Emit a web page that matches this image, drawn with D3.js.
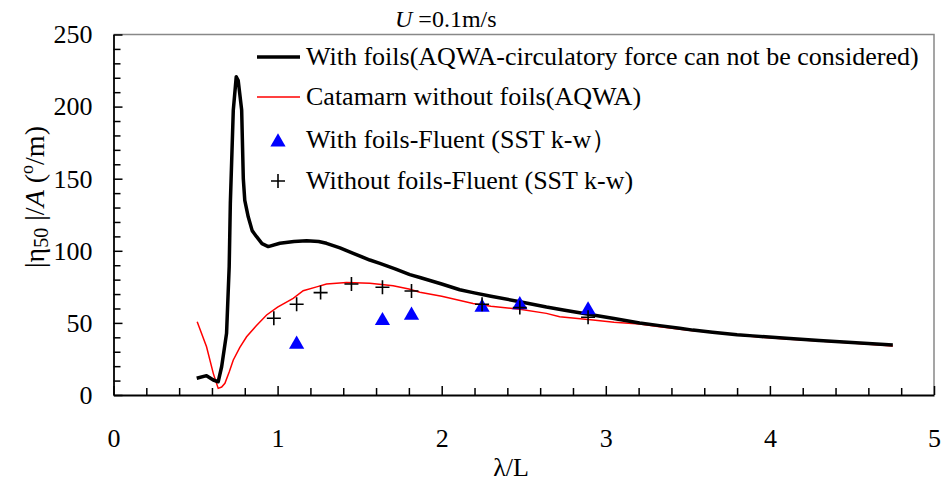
<!DOCTYPE html>
<html>
<head>
<meta charset="utf-8">
<script src="https://cdn.jsdelivr.net/npm/d3@7"></script>
<style>
  body { margin: 0; background: #fff; }
  svg { font-family: "Liberation Serif", "Times New Roman", serif; }
</style>
</head>
<body>
<div id="chart"></div>
<script>
// With foils (AQWA) - black curve
var withFoilsX = [0.507, 0.567, 0.608, 0.638, 0.659, 0.689, 0.705, 0.712, 0.730, 0.748, 0.760, 0.781, 0.791, 0.800, 0.821, 0.845, 0.872, 0.905, 0.943, 1.014, 1.10, 1.177, 1.25, 1.298, 1.38, 1.461, 1.562, 1.623, 1.716, 1.806, 1.867, 2.0, 2.11, 2.191, 2.3, 2.476, 2.638, 2.75, 2.922, 3.05, 3.206, 3.328, 3.45, 3.531, 3.65, 3.8, 3.896, 4.10, 4.3, 4.5, 4.749];
var withFoilsY = [11.6, 13.4, 10.4, 9.2, 19.6, 42.8, 89, 133, 197.6, 220.7, 218, 197.6, 150, 135, 123.6, 114, 109.8, 105, 102.9, 105.2, 106.5, 107, 106.5, 105.2, 102, 98.3, 93.6, 91.3, 87.5, 83.5, 81.5, 77, 73, 71, 68.5, 64.7, 61, 58.8, 55.5, 53, 50, 48.1, 46.3, 45, 43.5, 41.8, 41, 39.3, 37.8, 36.4, 34.7];

// Catamaran without foils (AQWA) - red curve
var noFoilsX = [0.510, 0.567, 0.608, 0.638, 0.659, 0.679, 0.705, 0.730, 0.77, 0.811, 0.87, 0.933, 1.00, 1.095, 1.156, 1.238, 1.298, 1.420, 1.562, 1.704, 1.80, 1.867, 2.0, 2.191, 2.3, 2.476, 2.638, 2.719, 2.922, 3.05, 3.206, 3.328, 3.531, 3.65, 3.896, 4.10, 4.5, 4.749];
var noFoilsY = [50.8, 33.5, 15, 4.6, 5.5, 8.1, 16, 24.3, 33, 40.4, 48, 55.5, 61, 67, 72.3, 75, 77, 78.1, 77.5, 75.8, 73.5, 71.2, 68.5, 63.5, 61.5, 59.4, 56.6, 54.3, 52, 50.5, 49.2, 47.4, 44.5, 43.5, 40.5, 38.8, 36, 34];

// Fluent results
var fluentFoilsX = [1.116, 1.639, 1.816, 2.246, 2.476, 2.892];
var fluentFoilsY = [35.1, 51.5, 55.3, 60.8, 62.5, 59];
var fluentNoFoilsX = [0.977, 1.116, 1.262, 1.450, 1.639, 1.816, 2.246, 2.476, 2.892];
var fluentNoFoilsY = [53.2, 62.9, 71, 77, 74.7, 72.1, 62.9, 60.6, 53.9];

var xTicks = [0, 1, 2, 3, 4, 5];
var yTicks = [0, 50, 100, 150, 200, 250];

var legendLabels = [
  "With foils(AQWA-circulatory force can not be considered)",
  "Catamarn without foils(AQWA)",
  "With foils-Fluent (SST k-w\uFF09",
  "Without foils-Fluent (SST k-w)"
];

var width = 952, height = 486;
var plotLeft = 113.5, plotRight = 934, plotTop = 34.5, plotBottom = 395;

var svg = d3.select("#chart").append("svg")
  .attr("width", width)
  .attr("height", height);

var x = d3.scaleLinear().domain([0, 5]).range([plotLeft, plotRight]);
var y = d3.scaleLinear().domain([0, 250]).range([plotBottom, plotTop]);

// plot frame (top and right, gray)
svg.append("path")
  .attr("d", "M" + plotLeft + "," + plotTop + "H" + plotRight + "V" + plotBottom)
  .attr("fill", "none")
  .attr("stroke", "#888")
  .attr("stroke-width", 1.5);

// minor ticks
var xMinor = d3.range(0, 5.01, 0.2).filter(v => Math.abs(v - Math.round(v)) > 1e-6);
var yMinor = d3.range(0, 251, 10).filter(v => v % 50 !== 0);

svg.append("g")
  .attr("transform", "translate(0," + plotBottom + ")")
  .call(d3.axisBottom(x).tickValues(xMinor).tickSize(-7).tickSizeOuter(0).tickFormat(""))
  .call(g => g.select(".domain").remove())
  .selectAll("line").attr("stroke-width", 1.5);

svg.append("g")
  .attr("transform", "translate(" + plotLeft + ",0)")
  .call(d3.axisLeft(y).tickValues(yMinor).tickSize(-7).tickSizeOuter(0).tickFormat(""))
  .call(g => g.select(".domain").remove())
  .selectAll("line").attr("stroke-width", 1.5);

// major axes
var xAxis = svg.append("g")
  .attr("transform", "translate(0," + plotBottom + ")")
  .call(d3.axisBottom(x).tickValues(xTicks).tickSize(-9).tickSizeOuter(0).tickPadding(34).tickFormat(d3.format("d")));

var yAxis = svg.append("g")
  .attr("transform", "translate(" + plotLeft + ",0)")
  .call(d3.axisLeft(y).tickValues(yTicks).tickSize(-9).tickSizeOuter(0).tickPadding(21).tickFormat(d3.format("d")));

[xAxis, yAxis].forEach(function(g) {
  g.select(".domain").attr("stroke-width", 1.8);
  g.selectAll("line").attr("stroke-width", 1.5);
  g.selectAll("text")
    .attr("font-family", "Liberation Serif, Times New Roman, serif")
    .attr("font-size", 26)
    .attr("fill", "#000");
});

// curves
var line = d3.line().x(d => x(d[0])).y(d => y(d[1]));

svg.append("path")
  .datum(noFoilsX.map((v, i) => [v, noFoilsY[i]]))
  .attr("d", line)
  .attr("fill", "none")
  .attr("stroke", "#ff0000")
  .attr("stroke-width", 1.5);

svg.append("path")
  .datum(withFoilsX.map((v, i) => [v, withFoilsY[i]]))
  .attr("d", line)
  .attr("fill", "none")
  .attr("stroke", "#000")
  .attr("stroke-width", 3.5)
  .attr("stroke-linejoin", "round");

// markers
var tri = d3.symbol().type(d3.symbolTriangle).size(100);
var plus = "M-7,0H7M0,-7V7";

svg.selectAll(".tri")
  .data(fluentFoilsX.map((v, i) => [v, fluentFoilsY[i]]))
  .enter().append("path")
  .attr("class", "tri")
  .attr("d", tri)
  .attr("transform", d => "translate(" + x(d[0]) + "," + y(d[1]) + ")")
  .attr("fill", "#0000ff");

svg.selectAll(".plus")
  .data(fluentNoFoilsX.map((v, i) => [v, fluentNoFoilsY[i]]))
  .enter().append("path")
  .attr("class", "plus")
  .attr("d", plus)
  .attr("transform", d => "translate(" + x(d[0]) + "," + y(d[1]) + ")")
  .attr("stroke", "#000")
  .attr("stroke-width", 1.6);

// legend
var legendY = [57, 97, 140, 181];
var lg = svg.append("g");

lg.append("line").attr("x1", 257).attr("x2", 300).attr("y1", legendY[0]).attr("y2", legendY[0])
  .attr("stroke", "#000").attr("stroke-width", 3.5);
lg.append("line").attr("x1", 257).attr("x2", 300).attr("y1", legendY[1]).attr("y2", legendY[1])
  .attr("stroke", "#ff0000").attr("stroke-width", 1.5);
lg.append("path").attr("d", tri).attr("transform", "translate(278," + (legendY[2] + 2) + ")").attr("fill", "#0000ff");
lg.append("path").attr("d", plus).attr("transform", "translate(278," + legendY[3] + ")")
  .attr("stroke", "#000").attr("stroke-width", 1.6);

lg.selectAll("text")
  .data(legendLabels)
  .enter().append("text")
  .attr("x", 306)
  .attr("y", (d, i) => legendY[i] + 8)
  .attr("font-size", 26)
  .text(d => d);

// title
var title = svg.append("text")
  .attr("x", 395)
  .attr("y", 27)
  .attr("font-size", 24);
title.append("tspan").attr("font-style", "italic").text("U");
title.append("tspan").text(" =0.1m/s");

// x label
svg.append("text")
  .attr("x", 511)
  .attr("y", 476)
  .attr("text-anchor", "middle")
  .attr("font-size", 26)
  .text("\u03BB/L");

// y label
var yl = svg.append("text")
  .attr("transform", "translate(44,197) rotate(-90)")
  .attr("text-anchor", "middle")
  .attr("font-size", 28);
yl.append("tspan").text("|\u03B7");
yl.append("tspan").attr("font-size", 20).attr("dy", 4).text("50");
yl.append("tspan").attr("dy", -4).text(" |/");
yl.append("tspan").attr("font-style", "italic").text("A");
yl.append("tspan").text(" (");
yl.append("tspan").attr("font-size", 18).attr("dy", -11).text("o");
yl.append("tspan").attr("dy", 11).text("/m)");
</script>
</body>
</html>
